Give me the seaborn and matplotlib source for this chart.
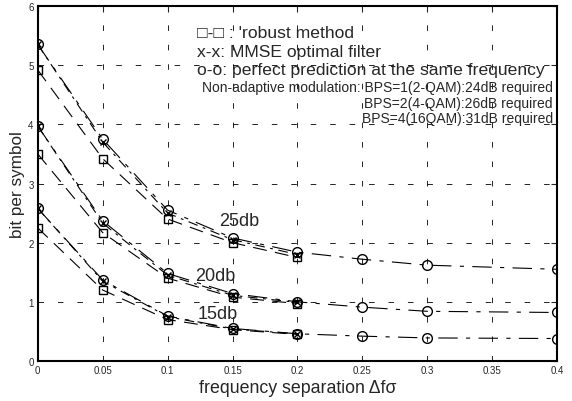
import matplotlib
matplotlib.use("Agg")
import matplotlib.pyplot as plt
import seaborn as sns
import numpy as np

# frequency separation values
x_perfect = [0, 0.05, 0.1, 0.15, 0.2, 0.25, 0.3, 0.4]
x_short = [0, 0.05, 0.1, 0.15, 0.2]

# perfect prediction (o-o)
perf_25 = [5.35, 3.75, 2.55, 2.08, 1.84, 1.72, 1.62, 1.55]
perf_20 = [3.97, 2.37, 1.48, 1.14, 1.00, 0.91, 0.84, 0.82]
perf_15 = [2.58, 1.37, 0.76, 0.55, 0.46, 0.42, 0.39, 0.38]

# MMSE optimal filter (x-x)
mmse_25 = [5.35, 3.70, 2.50, 2.05, 1.80]
mmse_20 = [3.97, 2.33, 1.45, 1.11, 0.99]
mmse_15 = [2.58, 1.35, 0.75, 0.54, 0.46]

# robust method (square)
rob_25 = [4.92, 3.42, 2.40, 2.00, 1.75]
rob_20 = [3.50, 2.17, 1.40, 1.08, 0.97]
rob_15 = [2.25, 1.20, 0.70, 0.53, 0.45]

snr_labels = ["25db", "20db", "15db"]
snr_label_pos = [(0.1395, 2.38), (0.1215, 1.45), (0.1235, 0.81)]

sns.set_style("white")
plt.rcParams['font.family'] = ['Liberation Sans', 'DejaVu Sans']
plt.rcParams['lines.scale_dashes'] = False

fig = plt.figure(figsize=(5.72, 4.02), dpi=100)
ax = fig.add_axes([0.066, 0.0995, 0.908, 0.883])

perf_ls = (0, (14, 6, 3, 6))
rob_ls = (0, (10, 6))
mmse_ls = (0, (7, 4, 2, 4))

for y in [perf_25, perf_20, perf_15]:
    sns.lineplot(x=x_perfect, y=y, ax=ax, color="k", lw=0.8, ls=perf_ls,
                 marker="o", ms=7, mfc="none", mec="k", mew=1.0)
for y in [mmse_25, mmse_20, mmse_15]:
    sns.lineplot(x=x_short, y=y, ax=ax, color="k", lw=0.8, ls=mmse_ls,
                 marker="x", ms=5, mec="k", mew=1.0)
for y in [rob_25, rob_20, rob_15]:
    sns.lineplot(x=x_short, y=y, ax=ax, color="k", lw=0.8, ls=rob_ls,
                 marker="s", ms=6, mfc="none", mec="k", mew=1.0)

for lab, (xx, yy) in zip(snr_labels, snr_label_pos):
    ax.text(xx, yy, lab, fontsize=13, ha="left", va="center")

ax.set_xlim(0, 0.4)
ax.set_ylim(0, 6)
ax.set_xticks(np.arange(0, 0.401, 0.05))
ax.set_xticklabels(["0", "0.05", "0.1", "0.15", "0.2", "0.25", "0.3", "0.35", "0.4"])
ax.set_yticks(range(0, 7))
ax.tick_params(direction="in", length=4, width=0.8, labelsize=7,
               top=True, right=True, pad=3)
ax.grid(True, color="k", lw=0.6, ls=(0, (4, 10)))
for s in ax.spines.values():
    s.set_linewidth(1.5)
    s.set_color("k")

ax.set_xlabel("frequency separation Δfσ", fontsize=12.8, labelpad=3)
ax.set_ylabel("bit per symbol", fontsize=12.3, labelpad=2)

# legend text
fig.text(197 / 572, 1 - 33 / 402, "□-□ : 'robust method", fontsize=12.6, va="center")
fig.text(197 / 572, 1 - 52 / 402, "x-x: MMSE optimal filter", fontsize=12.6, va="center")
fig.text(197 / 572, 1 - 71 / 402, "o-o: perfect prediction at the same frequency",
         fontsize=12.6, va="center")
fig.text(202 / 572, 1 - 88 / 402, "Non-adaptive modulation: BPS=1(2-QAM):24dB required",
         fontsize=10, va="center")
fig.text(553 / 572, 1 - 104 / 402, "BPS=2(4-QAM):26dB required",
         fontsize=10, va="center", ha="right")
fig.text(553 / 572, 1 - 119 / 402, "BPS=4(16QAM):31dB required",
         fontsize=10, va="center", ha="right")

plt.savefig("out.png", dpi=100)
